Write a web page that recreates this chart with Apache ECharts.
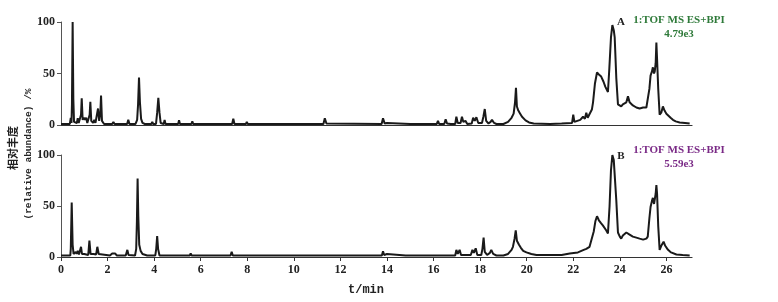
<!DOCTYPE html>
<html>
<head>
<meta charset="utf-8">
<script src="https://cdn.jsdelivr.net/npm/echarts@6/dist/echarts.min.js"></script>
<style>html,body{margin:0;padding:0;background:#fff}#c{width:778px;height:302px}</style>
</head>
<body>
<div id="c"></div>
<script>
// x-axis ticks (min)
const xTicks = [0, 2, 4, 6, 8, 10, 12, 14, 16, 18, 20, 22, 24, 26];
const yTicks = [0, 50, 100];
const xLabel = 't/min';
const yLabelCn = '相对丰度';
const yLabelEn = '(relative abundance) /%';
const legendA = ['A', '1:TOF MS ES+BPI', '4.79e3'];
const legendB = ['B', '1:TOF MS ES+BPI', '5.59e3'];

// trace A: [time/min, relative abundance %]
const traceA = [
[0,1],[0.38,1],[0.42,7],[0.45,2],[0.47,20],[0.5,100],[0.53,25],[0.56,3],[0.6,2],[0.68,2],[0.72,6.5],[0.76,2],[0.83,2],[0.86,10],[0.89,26],[0.93,5],[0.98,7],[1.03,5],[1.08,7],[1.13,2],[1.2,2],[1.23,10],[1.26,22.5],[1.3,4],[1.38,2],[1.43,5],[1.48,2],[1.54,3],[1.59,16],[1.64,4],[1.67,3],[1.69,12],[1.72,28.5],[1.76,4],[1.85,1],
[2.2,1],[2.25,3],[2.3,1],[2.84,1],[2.89,5],[2.94,1],[3.2,1],[3.27,5],[3.31,20],[3.35,46],[3.39,22],[3.44,6],[3.5,2],[3.6,1],[3.88,1],[3.92,3],[3.96,1],[4.08,1],[4.13,12],[4.18,26.5],[4.23,12],[4.28,2],[4.41,1],[4.45,5],[4.49,1],
[5.03,1],[5.07,4.5],[5.11,1],[5.6,1],[5.64,3.5],[5.68,1],[7.35,1],[7.4,6],[7.45,1],[7.94,1],[7.98,3],[8.02,1],[11.27,1],[11.33,6.5],[11.4,1.5],[13.77,1],[13.83,6.5],[13.9,1.5],[14.0,2],[14.08,1],[15.0,1],[15.05,1.5],[15.1,1],
[16.14,1],[16.19,4],[16.24,1],[16.46,1],[16.52,5.5],[16.58,1.5],[16.66,2.5],[16.74,1],[16.93,1],[16.98,8],[17.04,2],[17.16,2],[17.22,8],[17.28,3],[17.37,4],[17.45,1],[17.64,1.5],[17.7,7],[17.77,4],[17.84,7.5],[17.92,2],[18.08,2],[18.14,8],[18.2,15.5],[18.26,4],[18.36,1.5],[18.45,3],[18.51,5],[18.6,2],[18.7,1],
[19.0,1],[19.2,3],[19.35,7],[19.44,11],[19.5,22],[19.54,36],[19.58,18],[19.64,14],[19.72,11],[19.8,8],[19.95,4.5],[20.1,2.5],[20.3,1.5],[21.0,1],[21.5,1.5],[21.95,2],[22.0,10],[22.05,3],[22.3,5],[22.42,8],[22.5,6],[22.56,12],[22.62,7],[22.7,8],[22.8,15],[22.85,22],[22.93,40],[23.02,51],[23.1,49],[23.2,47],[23.3,42],[23.38,37],[23.49,32],[23.55,55],[23.62,85],[23.68,97],[23.74,92],[23.78,85],[23.85,45],[23.92,20],
[24.0,19],[24.06,18],[24.13,20],[24.2,20],[24.28,22],[24.35,28],[24.42,22],[24.49,21],[24.56,19],[24.64,20],[24.71,17],[24.78,18],[24.85,16],[24.92,16],[25.0,17],[25.07,16],[25.14,17],[25.2,18],[25.27,35],[25.32,48],[25.38,52],[25.42,56],[25.47,50],[25.5,52],[25.54,60],[25.57,80],[25.6,64],[25.65,35],[25.71,10],[25.78,12],[25.85,18],[25.92,14],[26.0,11],[26.07,10],[26.18,7],[26.28,5],[26.4,3.5],[26.57,2.5],[26.8,2],[27.0,1.5]
];

// trace B: [time/min, relative abundance %]
const traceB = [
[0,1.5],[0.4,1.5],[0.42,8],[0.46,53.5],[0.5,12],[0.54,3],[0.6,3],[0.63,5],[0.67,3],[0.72,6],[0.77,2.5],[0.82,3],[0.86,10],[0.9,3],[1.0,3],[1.06,2],[1.17,2],[1.22,16],[1.27,3],[1.35,2],[1.4,3],[1.45,2],[1.51,2.5],[1.56,10],[1.62,3],[1.7,1.5],
[2.1,1.5],[2.2,3.5],[2.25,4],[2.32,3.5],[2.4,1.5],[2.78,1.5],[2.85,7],[2.9,2],[3.18,1.5],[3.23,8],[3.26,35],[3.29,77],[3.32,40],[3.36,12],[3.42,6],[3.5,3],[3.7,1.5],[4.05,1.5],[4.09,8],[4.13,20.5],[4.17,8],[4.23,1.5],[4.35,1.5],[4.4,2.5],[4.45,1.5],
[4.92,1.5],[4.96,2],[5.0,1.5],[5.53,1.5],[5.57,3.5],[5.61,1.5],[7.28,1.5],[7.33,5],[7.38,1.5],[11.22,1.5],[11.26,2.5],[11.3,1.5],[13.78,1.5],[13.83,5.5],[13.88,2],[14.0,3],[14.06,1.5],[14.8,1.5],[14.84,3],[14.88,1.5],
[16.37,1.5],[16.41,3],[16.45,1.5],[16.59,1.5],[16.63,3],[16.67,1.5],[16.93,1.5],[16.98,7],[17.04,3],[17.12,7],[17.18,2],[17.6,2],[17.67,7],[17.73,4],[17.81,8.5],[17.88,2],[18.05,2],[18.1,8],[18.15,19],[18.2,5],[18.3,2],[18.42,4],[18.48,7],[18.56,3],[18.7,1.5],
[19.0,1.5],[19.2,3],[19.35,7],[19.41,10],[19.48,18],[19.53,26],[19.58,16],[19.67,12],[19.75,9],[19.85,6],[19.99,4.5],[20.2,3],[20.42,2],[21.0,2],[21.5,2],[21.85,3.5],[22.2,4.5],[22.45,7],[22.56,8],[22.7,10],[22.78,11],[22.88,25],[22.95,35],[23.02,40],[23.1,36],[23.2,33],[23.27,31],[23.35,30],[23.42,26],[23.49,23],[23.56,50],[23.62,85],[23.68,100],[23.74,95],[23.78,96],[23.85,55],[23.92,24],
[24.0,20],[24.06,18],[24.13,21],[24.2,21],[24.28,24],[24.35,25],[24.42,22],[24.49,22],[24.56,20],[24.64,20],[24.71,19],[24.78,18],[24.85,18],[24.92,18],[25.0,17],[25.07,18],[25.14,18],[25.2,20],[25.27,38],[25.32,49],[25.38,55],[25.42,58],[25.47,52],[25.5,52],[25.54,62],[25.57,70.5],[25.6,62],[25.65,30],[25.71,7],[25.78,11],[25.88,15],[25.95,11],[26.07,7],[26.2,4.5],[26.43,2.5],[26.7,2],[27.0,1.5]
];

const chart = echarts.init(document.getElementById('c'), null, {renderer: 'canvas'});
const serif = '"Liberation Serif", "DejaVu Serif", serif';
const lblFont = {fontFamily: serif, fontWeight: 'bold', fontSize: 12, color: '#222'};

function xAxisCfg(gi, showLabels) {
  return {
    type: 'value', gridIndex: gi, min: xTicks[0], max: 27.1, interval: 2,
    axisLine: {show: true, lineStyle: {color: '#333', width: 1.2}},
    axisTick: {show: showLabels, length: 4, inside: false, lineStyle: {color: '#333'}},
    axisLabel: {show: showLabels, showMaxLabel: false, margin: 7, ...lblFont,
      formatter: v => xTicks.includes(v) ? String(v) : ''},
    splitLine: {show: false}
  };
}
function yAxisCfg(gi) {
  return {
    type: 'value', gridIndex: gi, min: yTicks[0], max: yTicks[2], interval: 50,
    axisLine: {show: true, lineStyle: {color: '#555', width: 1}},
    axisTick: {show: true, length: 4, lineStyle: {color: '#555'}},
    axisLabel: {margin: 6, ...lblFont},
    splitLine: {show: false}
  };
}
const lineStyle = {color: '#1a1a1a', width: 2};

chart.setOption({
  animation: false,
  backgroundColor: '#fff',
  grid: [
    {left: 61, top: 22, width: 631, height: 103},
    {left: 61, top: 155, width: 631, height: 102}
  ],
  xAxis: [xAxisCfg(0, false), xAxisCfg(1, true)],
  yAxis: [yAxisCfg(0), yAxisCfg(1)],
  series: [
    {type: 'line', xAxisIndex: 0, yAxisIndex: 0, data: traceA, showSymbol: false, lineStyle: lineStyle, clip: true},
    {type: 'line', xAxisIndex: 1, yAxisIndex: 1, data: traceB, showSymbol: false, lineStyle: lineStyle, clip: true}
  ],
  graphic: [
    {type: 'text', x: 366, y: 290, style: {text: xLabel, align: 'center', verticalAlign: 'middle', font: 'bold 12px "Liberation Mono", monospace', fill: '#222'}},
    {type: 'text', x: 13, y: 148, rotation: Math.PI / 2, style: {text: yLabelCn, align: 'center', verticalAlign: 'middle', font: 'bold 11px "Noto Sans CJK SC", sans-serif', fill: '#222'}},
    {type: 'text', x: 29, y: 154, rotation: Math.PI / 2, style: {text: yLabelEn, align: 'center', verticalAlign: 'middle', font: 'bold 9.5px "Liberation Mono", monospace', fill: '#222'}},
    {type: 'text', x: 621, y: 22, style: {text: legendA[0], align: 'center', verticalAlign: 'middle', font: 'bold 11px ' + serif, fill: '#222'}},
    {type: 'text', x: 679, y: 20, style: {text: legendA[1], align: 'center', verticalAlign: 'middle', font: 'bold 11px ' + serif, fill: '#2f7a3a'}},
    {type: 'text', x: 679, y: 34, style: {text: legendA[2], align: 'center', verticalAlign: 'middle', font: 'bold 11px ' + serif, fill: '#2f7a3a'}},
    {type: 'text', x: 621, y: 156, style: {text: legendB[0], align: 'center', verticalAlign: 'middle', font: 'bold 11px ' + serif, fill: '#222'}},
    {type: 'text', x: 679, y: 150, style: {text: legendB[1], align: 'center', verticalAlign: 'middle', font: 'bold 11px ' + serif, fill: '#7a2a86'}},
    {type: 'text', x: 679, y: 164, style: {text: legendB[2], align: 'center', verticalAlign: 'middle', font: 'bold 11px ' + serif, fill: '#7a2a86'}}
  ]
});
</script>
</body>
</html>
